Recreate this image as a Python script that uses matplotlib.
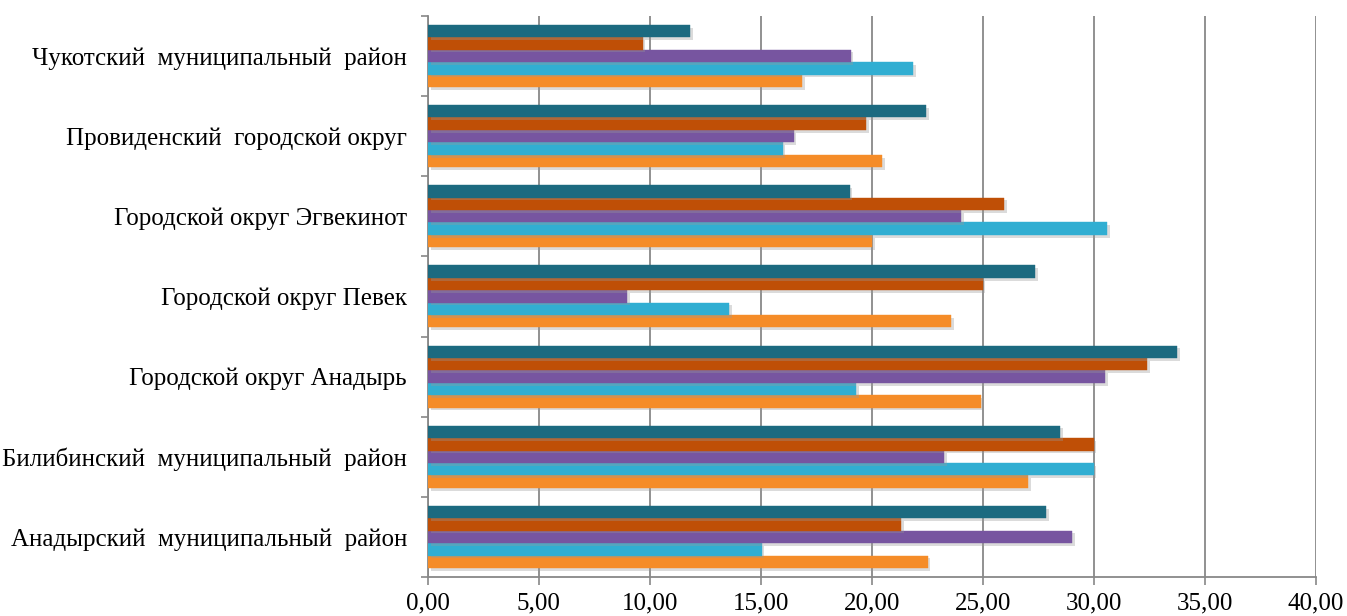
import numpy as np
import matplotlib.pyplot as plt
import matplotlib.patheffects as pe

plt.rcParams['font.family'] = ['Liberation Serif', 'DejaVu Serif']

# районы снизу вверх
rayony = ['Анадырский  муниципальный  район',
          'Билибинский  муниципальный  район',
          'Городской округ Анадырь',
          'Городской округ Певек',
          'Городской округ Эгвекинот',
          'Провиденский  городской округ',
          'Чукотский  муниципальный  район']

# ряды в порядке снизу вверх внутри группы
s1 = [22.52, 27.04, 24.94, 23.56, 20.02, 20.48, 16.87]   # оранжевый
s2 = [15.04, 30.00, 19.30, 13.58, 30.60, 15.98, 21.88]   # голубой
s3 = [29.02, 23.26, 30.50, 8.99, 24.02, 16.48, 19.05]    # фиолетовый
s4 = [21.33, 30.00, 32.40, 24.99, 25.98, 19.73, 9.67]    # тёмно-оранжевый
s5 = [27.84, 28.50, 33.76, 27.37, 19.00, 22.46, 11.80]   # тёмно-бирюзовый

ryady = [s1, s2, s3, s4, s5]
cveta = ['#F58C28', '#31AED2', '#7755A0', '#BF4F06', '#1C6A80']

xticks = np.arange(0, 41, 5)

fig = plt.figure(figsize=(13.47, 6.16), dpi=100)
ax = fig.add_axes([0.3177, 0.0633, 0.659, 0.911])

y = np.arange(len(rayony))
h = 0.155
for k, (vals, c) in enumerate(zip(ryady, cveta)):
    off = (k - 2) * h
    bars = ax.barh(y + off, vals, height=h, color=c, zorder=3,
                   edgecolor=c, linewidth=0.3)
    for b in bars:
        b.set_path_effects([pe.SimplePatchShadow(offset=(2, -2), shadow_rgbFace='#999999', alpha=0.35),
                            pe.Normal()])

ax.set_xlim(0, 40)
ax.set_ylim(-0.5, len(rayony) - 0.5)
ax.set_xticks(xticks)
ax.xaxis.set_major_formatter(plt.FuncFormatter(lambda v, p: ('%.2f' % v).replace('.', ',')))
ax.set_yticks(y)
ax.set_yticklabels(rayony)
ax.set_yticks(np.arange(-0.5, len(rayony), 1), minor=True)
ax.tick_params(axis='y', which='major', length=0, pad=15, labelsize=18)
ax.tick_params(axis='y', which='minor', length=5, color='#888888', width=1.2)
ax.tick_params(axis='x', length=6, color='#888888', width=1.2, pad=5, labelsize=18)

ax.grid(axis='x', color='#888888', linewidth=1.3, zorder=0)
for s in ['top', 'right']:
    ax.spines[s].set_visible(False)
for s in ['left', 'bottom']:
    ax.spines[s].set_color('#888888')
    ax.spines[s].set_linewidth(1.3)

fig.savefig('out.png', dpi=100)
